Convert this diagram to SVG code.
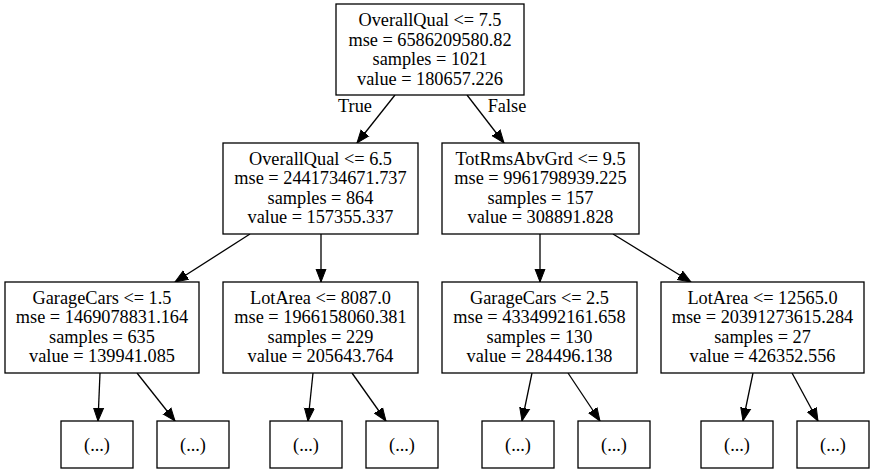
<svg xmlns="http://www.w3.org/2000/svg" width="875" height="475" viewBox="0 0 875 475">
<defs>
<marker id="ah" markerUnits="userSpaceOnUse" markerWidth="14" markerHeight="12" refX="13" refY="5" orient="auto" viewBox="0 0 14 10">
<path d="M0,0 L13,5 L0,10 Z" fill="#000" stroke="#000" stroke-width="1"/>
</marker>
</defs>
<style>
rect{fill:#fff;stroke:#000;stroke-width:1.3}
text{font-family:"Liberation Serif","Times New Roman",serif;font-size:18.3px;fill:#000;text-anchor:middle}
.e line{stroke:#000;stroke-width:1.3;marker-end:url(#ah)}
</style>
<rect x="0" y="0" width="875" height="475" fill="#fff" stroke="none" style="stroke:none"/>
<g class="e" id="connectors">
<line x1="395" y1="95" x2="357" y2="143"/>
<line x1="467" y1="95" x2="504" y2="143"/>
<line x1="250" y1="234" x2="175" y2="282"/>
<line x1="321" y1="234" x2="321" y2="282"/>
<line x1="540" y1="234" x2="540" y2="282"/>
<line x1="613" y1="234" x2="691" y2="282"/>
<line x1="100" y1="373" x2="98" y2="421"/>
<line x1="137" y1="373" x2="175" y2="421"/>
<line x1="313" y1="373" x2="308" y2="421"/>
<line x1="352" y1="373" x2="386" y2="421"/>
<line x1="532" y1="373" x2="522" y2="421"/>
<line x1="568" y1="373" x2="600" y2="421"/>
<line x1="753" y1="373" x2="743" y2="421"/>
<line x1="792" y1="373" x2="818" y2="421"/>
<text x="355" y="112">True</text>
<text x="507" y="112">False</text>
</g>
<g id="n0"><rect x="336" y="4" width="188" height="91"/>
<text x="430" y="26">OverallQual &lt;= 7.5</text><text x="430" y="45.5">mse = 6586209580.82</text><text x="430" y="65">samples = 1021</text><text x="430" y="84.5">value = 180657.226</text></g>
<g id="n1"><rect x="223" y="143" width="195" height="91"/>
<text x="320.5" y="164.5">OverallQual &lt;= 6.5</text><text x="320.5" y="184">mse = 2441734671.737</text><text x="320.5" y="203.5">samples = 864</text><text x="320.5" y="223">value = 157355.337</text></g>
<g id="n2"><rect x="442" y="143" width="197" height="91"/>
<text x="540.5" y="164.5">TotRmsAbvGrd &lt;= 9.5</text><text x="540.5" y="184">mse = 9961798939.225</text><text x="540.5" y="203.5">samples = 157</text><text x="540.5" y="223">value = 308891.828</text></g>
<g id="n3"><rect x="5" y="282" width="194" height="91"/>
<text x="102" y="303.5">GarageCars &lt;= 1.5</text><text x="102" y="323">mse = 1469078831.164</text><text x="102" y="342.5">samples = 635</text><text x="102" y="362">value = 139941.085</text></g>
<g id="n4"><rect x="223" y="282" width="195" height="91"/>
<text x="320.5" y="303.5">LotArea &lt;= 8087.0</text><text x="320.5" y="323">mse = 1966158060.381</text><text x="320.5" y="342.5">samples = 229</text><text x="320.5" y="362">value = 205643.764</text></g>
<g id="n5"><rect x="442" y="282" width="195" height="91"/>
<text x="539.5" y="303.5">GarageCars &lt;= 2.5</text><text x="539.5" y="323">mse = 4334992161.658</text><text x="539.5" y="342.5">samples = 130</text><text x="539.5" y="362">value = 284496.138</text></g>
<g id="n6"><rect x="661" y="282" width="203" height="91"/>
<text x="762.5" y="303.5">LotArea &lt;= 12565.0</text><text x="762.5" y="323">mse = 20391273615.284</text><text x="762.5" y="342.5">samples = 27</text><text x="762.5" y="362">value = 426352.556</text></g>
<g id="l1"><rect x="61" y="421" width="72" height="47"/><text x="97" y="451">(...)</text></g>
<g id="l2"><rect x="157" y="421" width="72" height="47"/><text x="193" y="451">(...)</text></g>
<g id="l3"><rect x="270" y="421" width="72" height="47"/><text x="306" y="451">(...)</text></g>
<g id="l4"><rect x="366" y="421" width="72" height="47"/><text x="402" y="451">(...)</text></g>
<g id="l5"><rect x="482" y="421" width="72" height="47"/><text x="518" y="451">(...)</text></g>
<g id="l6"><rect x="578" y="421" width="72" height="47"/><text x="614" y="451">(...)</text></g>
<g id="l7"><rect x="701" y="421" width="72" height="47"/><text x="737" y="451">(...)</text></g>
<g id="l8"><rect x="797" y="421" width="72" height="47"/><text x="833" y="451">(...)</text></g>
</svg>
